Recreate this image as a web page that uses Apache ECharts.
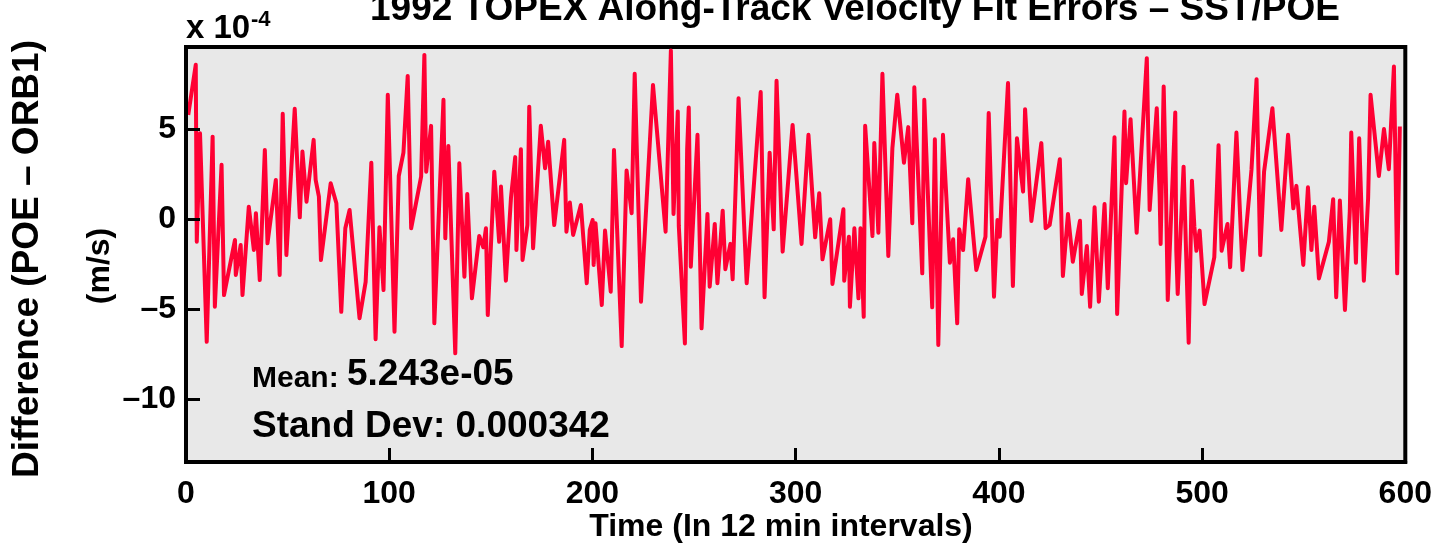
<!DOCTYPE html>
<html>
<head>
<meta charset="utf-8">
<script src="https://cdn.jsdelivr.net/npm/echarts@6/dist/echarts.min.js"></script>
<style>
html,body{margin:0;padding:0;background:#fff;}
#chart{width:1435px;height:546px;}
</style>
</head>
<body>
<div id="chart"></div>
<script>
// Time (in 12 min intervals)
const times = [1.1,4.8,5.3,6.9,10.2,13.1,14.2,17.5,18.7,24.1,24.5,26.9,27.8,30.9,33.4,34.4,36.3,38.8,40.1,44.2,46.1,47.6,49.4,53.5,56.0,57.3,59.3,62.8,63.8,65.4,66.4,71.2,74.0,76.4,78.4,80.5,85.4,88.4,91.2,93.3,95.2,97.2,99.3,102.6,104.7,107.0,109.1,110.8,115.7,117.3,118.2,120.6,122.2,126.7,127.6,129.1,132.5,134.5,137.0,138.4,140.7,144.3,146.3,147.6,148.5,151.7,154.1,155.0,157.4,159.9,162.0,162.6,164.8,165.6,168.0,168.9,170.8,174.6,176.7,178.2,181.2,186.1,187.2,188.9,190.5,194.3,197.2,198.7,200.1,200.6,201.5,204.6,206.2,209.0,210.6,214.4,216.8,219.3,220.8,223.9,229.8,236.0,238.6,239.9,242.0,242.5,245.5,246.6,247.4,248.4,251.7,253.7,256.6,257.7,260.2,261.5,264.1,265.4,267.9,269.0,271.9,275.9,282.8,284.7,287.2,289.2,290.6,293.6,298.5,302.9,306.3,309.6,311.6,313.2,317.0,318.1,323.5,323.9,326.2,326.7,328.9,330.9,331.9,333.5,334.2,337.8,338.7,340.7,342.7,345.6,347.6,350.0,353.3,355.4,357.4,358.4,362.3,363.3,367.2,368.5,370.2,372.5,375.9,377.5,379.5,380.5,382.4,384.9,388.9,393.4,395.0,397.6,399.3,400.4,404.5,406.9,408.9,411.9,412.9,416.0,420.9,423.0,425.0,430.0,431.5,434.0,436.4,439.9,440.8,443.3,444.9,447.1,449.2,452.0,453.6,456.9,458.2,461.8,462.6,464.8,467.8,472.8,474.2,477.7,479.1,479.6,481.1,482.2,483.1,486.8,487.3,488.0,490.9,492.2,493.4,495.0,496.2,497.2,498.8,501.2,506.0,508.1,509.6,512.5,513.8,516.9,519.9,524.3,526.8,528.6,530.5,534.6,539.0,542.3,544.9,546.4,549.8,552.1,553.8,555.2,557.5,562.4,564.5,566.0,567.8,570.3,572.7,573.4,575.7,577.3,579.6,581.7,582.9,587.0,589.5,591.9,594.4,596.0,597.3];
// Difference (POE - ORB1), units of 1e-4 m/s
const diffs = [5.82,8.61,-1.24,4.80,-6.81,4.61,-4.86,3.04,-4.21,-1.14,-3.09,-1.42,-4.21,0.71,-1.70,0.35,-3.37,3.87,-1.33,2.20,-3.09,5.88,-1.98,6.16,0.12,3.78,0.99,4.43,2.20,1.27,-2.26,2.02,0.90,-5.14,-0.49,0.53,-5.50,-3.47,3.16,-6.67,-0.43,-3.93,6.94,-6.25,2.42,3.72,7.99,-0.49,2.38,9.16,2.66,5.21,-5.78,6.66,-1.05,4.09,-7.45,3.13,-3.19,1.42,-4.39,-0.92,-1.55,-0.49,-5.32,2.66,-1.24,1.83,-3.41,1.18,3.47,-1.70,3.91,-2.26,-0.31,6.28,-1.60,5.21,2.85,4.33,-0.31,4.43,-0.68,0.94,-0.86,0.81,-3.55,-0.58,-0.03,-2.53,-0.21,-4.76,-0.62,-4.02,3.87,-7.05,2.72,0.35,8.11,-4.58,7.49,-0.68,9.40,0.31,6.01,-0.36,-6.90,3.87,6.23,-2.63,4.71,-6.06,0.31,-3.74,-0.25,-3.55,0.49,-2.77,-1.36,-3.33,6.75,-3.55,7.09,-4.33,3.72,-0.55,7.72,-1.79,5.26,-1.36,4.71,-0.99,1.46,-2.22,0.01,-3.59,0.57,-3.41,-0.96,-4.86,-0.49,-4.39,-0.49,-5.42,5.21,-0.92,4.25,-0.74,8.11,-2.03,3.97,6.94,3.16,5.14,-0.21,7.36,-3.00,6.66,-4.89,4.47,-6.99,4.71,-2.41,-1.10,-5.78,-0.55,-1.70,2.24,-2.81,-0.96,5.92,-4.30,-0.03,-0.96,7.59,-3.70,4.52,1.55,6.14,-0.08,4.25,-0.49,-0.31,3.35,-3.15,0.31,-2.35,-0.07,-4.15,-1.48,-4.86,0.68,-4.58,0.86,-3.83,4.58,-5.26,6.01,2.02,5.58,-0.74,8.98,0.53,6.19,1.36,-1.36,7.40,1.87,-4.48,5.95,-1.74,-4.15,2.94,-2.07,-6.86,2.16,-0.40,-1.74,-0.62,-4.71,-2.11,4.13,-1.74,-0.25,-2.66,4.84,-2.81,2.76,7.81,-1.98,2.66,6.19,-0.58,4.71,0.62,1.87,-2.53,1.79,-1.70,0.71,-3.28,-1.24,1.13,-4.33,1.05,-5.04,0.49,4.84,-2.41,4.52,-3.41,1.18,6.94,2.42,5.03,2.80,8.51,-3.00,5.17];

const xTicks = [0,100,200,300,400,500,600];
const yTicks = [-10,-5,0,5];
const yLabels = ['\u201310','\u20135','0','5'];

const titleText = '1992 TOPEX Along-Track Velocity Fit Errors \u2013 SST/POE';
const scaleText = 'x 10';
const scaleExp = '-4';
const yTitle1 = 'Difference (POE \u2013 ORB1)';
const yTitle2 = '(m/s)';
const xTitle = 'Time (In 12 min intervals)';
const meanLabel = 'Mean:';
const meanValue = '5.243e-05';
const sdText = 'Stand Dev: 0.000342';

const FONT = '"Liberation Sans", Arial, Helvetica, sans-serif';
const seriesData = times.map((t, i) => [t, diffs[i]]);

const chart = echarts.init(document.getElementById('chart'), null, {renderer: 'canvas'});
chart.setOption({
  animation: false,
  backgroundColor: '#ffffff',
  grid: {
    left: 186, right: 27, top: 47, bottom: 84,
    show: true, backgroundColor: '#e8e8e8', borderColor: '#000', borderWidth: 4, z: 0
  },
  xAxis: {
    type: 'value', min: xTicks[0], max: xTicks[xTicks.length - 1], interval: 100,
    position: 'bottom', z: 10,
    axisLine: {show: true, onZero: false, lineStyle: {color: '#000', width: 4}},
    splitLine: {show: false},
    axisTick: {show: true, inside: true, length: 14, lineStyle: {color: '#000', width: 3}},
    axisLabel: {color: '#000', fontFamily: FONT, fontWeight: 'bold', fontSize: 32, margin: 16}
  },
  yAxis: {
    type: 'value', min: -13.5, max: 9.6, z: 10,
    axisLine: {show: true, onZero: false, lineStyle: {color: '#000', width: 4}},
    splitLine: {show: false},
    axisTick: {show: true, inside: true, length: 14, lineStyle: {color: '#000', width: 3}, customValues: yTicks},
    axisLabel: {
      color: '#000', fontFamily: FONT, fontWeight: 'bold', fontSize: 32, margin: 10,
      customValues: yTicks,
      formatter: v => yLabels[yTicks.indexOf(v)]
    }
  },
  series: [{
    type: 'line', data: seriesData, showSymbol: false,
    lineStyle: {color: '#ff0033', width: 4, join: 'round'},
    z: 3
  }],
  graphic: [
    {type: 'text', x: 370, y: 10, style: {text: titleText, font: 'bold 37px ' + FONT, fill: '#000', align: 'left', verticalAlign: 'middle'}},
    {type: 'text', x: 186, y: 29, style: {text: scaleText, font: 'bold 33px ' + FONT, fill: '#000', align: 'left', verticalAlign: 'middle'}},
    {type: 'text', x: 251, y: 20, style: {text: scaleExp, font: 'bold 22px ' + FONT, fill: '#000', align: 'left', verticalAlign: 'middle'}},
    {type: 'text', x: 28, y: 259, rotation: Math.PI / 2, style: {text: yTitle1, font: 'bold 37px ' + FONT, fill: '#000', align: 'center', verticalAlign: 'middle'}},
    {type: 'text', x: 100, y: 266, rotation: Math.PI / 2, style: {text: yTitle2, font: 'bold 32px ' + FONT, fill: '#000', align: 'center', verticalAlign: 'middle'}},
    {type: 'text', x: 781, y: 527, style: {text: xTitle, font: 'bold 32px ' + FONT, fill: '#000', align: 'center', verticalAlign: 'middle'}},
    {type: 'text', x: 252, y: 375, z: 10, style: {
      text: '{a|' + meanLabel + ' }{b|' + meanValue + '}', verticalAlign: 'middle', align: 'left',
      rich: {
        a: {font: 'bold 30px ' + FONT, fill: '#000', verticalAlign: 'bottom'},
        b: {font: 'bold 37px ' + FONT, fill: '#000', verticalAlign: 'bottom'}
      }
    }},
    {type: 'text', x: 252, y: 427, z: 10, style: {text: sdText, font: 'bold 37px ' + FONT, fill: '#000', align: 'left', verticalAlign: 'middle'}}
  ]
});
</script>
</body>
</html>
